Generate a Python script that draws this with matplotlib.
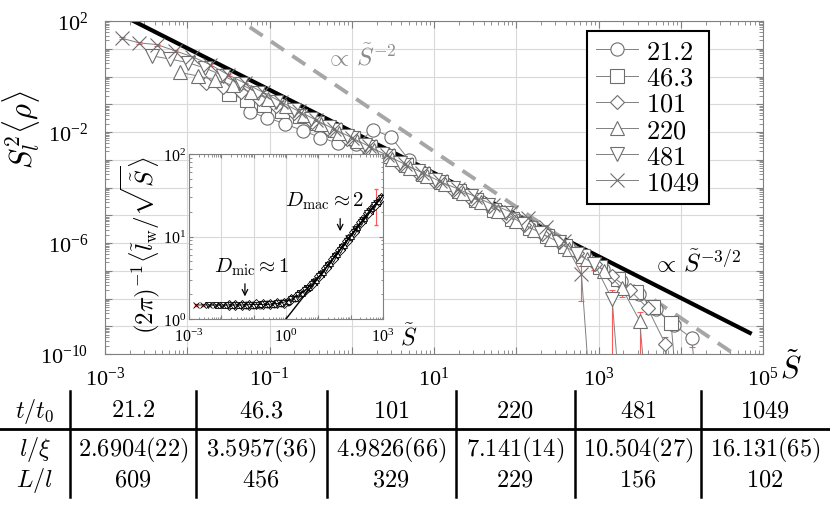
import numpy as np
import matplotlib
matplotlib.use('Agg')
import matplotlib.pyplot as plt
from matplotlib.lines import Line2D
from matplotlib.ticker import FixedLocator, FuncFormatter, LogLocator, NullFormatter

plt.rcParams['font.family'] = ['Liberation Serif', 'DejaVu Serif']
plt.rcParams['mathtext.fontset'] = 'cm'

W, H = 830, 506
def fx(px): return px / W
def fy(py): return 1 - py / H

#
# table / legend values
#
times = ['21.2', '46.3', '101', '220', '481', '1049']
l_xi = [2.6904, 3.5957, 4.9826, 7.141, 10.504, 16.131]
l_xi_txt = ['2.6904(22)', '3.5957(36)', '4.9826(66)', '7.141(14)', '10.504(27)', '16.131(65)']
L_l = ['609', '456', '329', '229', '156', '102']

# log10 of the raw size bins (same for every time, rescaled by (l/xi)^2)
log_s_bins = [-0.382, -0.167, 0.048, 0.263, 0.478, 0.693, 0.908, 1.123, 1.338, 1.553,
              1.768, 1.983, 2.198, 2.413, 2.628, 2.843, 3.058, 3.273, 3.488, 3.703,
              3.918, 4.133, 4.348, 4.563, 4.778, 4.993, 5.208, 5.423]

# log10 of S_l^2 <rho>, last entry is the empty bin that falls off the axis
rho_212 = [-1.28, -1.48, -1.71, -1.95, -2.20, -2.40, -2.45, -1.92, -2.18, -3.00, -3.50, -3.85,
           -4.18, -4.50, -4.85, -5.18, -5.50, -5.82, -6.14, -6.55, -6.95, -7.38, -7.85, -8.38,
           -8.95, -9.43, -16]
rho_463 = [-0.63, -0.84, -1.04, -1.24, -1.44, -1.67, -1.94, -2.23, -2.55, -2.87, -3.19, -3.50,
           -3.81, -4.12, -4.45, -4.80, -5.12, -5.45, -5.76, -6.10, -6.48, -6.88, -7.30, -7.78,
           -8.32, -8.88, -16]
rho_101 = [-0.23, -0.38, -0.57, -0.80, -1.05, -1.33, -1.63, -1.93, -2.24, -2.55, -2.87, -3.18,
           -3.48, -3.80, -4.09, -4.40, -4.68, -5.02, -5.35, -5.66, -5.98, -6.36, -6.74, -7.20,
           -7.70, -8.35, -9.64, -16]
rho_220 = [0.15, 0.02, -0.12, -0.32, -0.56, -0.80, -1.08, -1.38, -1.70, -2.02, -2.33, -2.65,
           -2.96, -3.28, -3.58, -3.88, -4.19, -4.52, -4.86, -5.20, -5.52, -5.84, -6.20, -6.58,
           -7.00, -7.63, -8.80, -16]
rho_481 = [0.74, 0.63, 0.50, 0.30, 0.03, -0.28, -0.60, -0.92, -1.22, -1.52, -1.83, -2.15,
           -2.46, -2.78, -3.10, -3.40, -3.72, -4.02, -4.32, -4.62, -4.93, -5.33, -5.65, -5.98,
           -6.38, -6.76, -8.02, -16]
rho_1049 = [1.38, 1.21, 1.15, 0.93, 0.71, 0.43, 0.07, -0.25, -0.57, -0.91, -1.25, -1.57,
            -1.89, -2.20, -2.52, -2.84, -3.16, -3.47, -3.78, -4.05, -4.33, -4.62, -4.88, -5.10,
            -5.42, -5.92, -7.12, -16]

# relative errors of the last three filled bins
err_212 = [0.25, 0.35, 0.53]
err_463 = [0.2, 0.3, 0.45]
err_101 = [0.3, 0.4, 0.86]
err_220 = [0.3, 0.5, 1.1]
err_481 = [0.2, 0.4, 1.2]
err_1049 = [0.2, 0.3, 0.89]

# inset: log10 of (2pi)^-1 <l_w / sqrt(S)>
wall_212 = [0.17, 0.172, 0.175, 0.178, 0.18, 0.19, 0.21, 0.26, 0.32, 0.38, 0.46, 0.56, 0.67,
            0.78, 0.89, 1.00, 1.11, 1.22, 1.33, 1.42]
wall_463 = [0.17, 0.172, 0.174, 0.176, 0.178, 0.18, 0.19, 0.21, 0.25, 0.31, 0.37, 0.45, 0.55,
            0.65, 0.76, 0.87, 0.98, 1.09, 1.20, 1.31, 1.41]
wall_101 = [0.17, 0.17, 0.172, 0.174, 0.176, 0.178, 0.18, 0.19, 0.20, 0.24, 0.29, 0.35, 0.43,
            0.52, 0.62, 0.73, 0.84, 0.95, 1.06, 1.17, 1.28, 1.38, 1.47]
wall_220 = [0.17, 0.17, 0.17, 0.17, 0.172, 0.175, 0.177, 0.18, 0.185, 0.195, 0.22, 0.26, 0.32,
            0.39, 0.47, 0.57, 0.68, 0.79, 0.90, 1.01, 1.12, 1.23, 1.34, 1.43]
wall_481 = [0.17, 0.17, 0.17, 0.17, 0.17, 0.17, 0.175, 0.175, 0.178, 0.18, 0.19, 0.20, 0.24,
            0.29, 0.35, 0.43, 0.52, 0.62, 0.73, 0.84, 0.95, 1.06, 1.17, 1.28, 1.38, 1.47]
wall_1049 = [0.17, 0.17, 0.17, 0.17, 0.17, 0.17, 0.17, 0.17, 0.175, 0.175, 0.178, 0.18, 0.19,
             0.21, 0.25, 0.30, 0.37, 0.45, 0.54, 0.65, 0.76, 0.87, 0.98, 1.09, 1.20, 1.31, 1.41]

rho_all = [rho_212, rho_463, rho_101, rho_220, rho_481, rho_1049]
err_all = [err_212, err_463, err_101, err_220, err_481, err_1049]
wall_all = [wall_212, wall_463, wall_101, wall_220, wall_481, wall_1049]

markers = ['o', 's', 'D', '^', 'v', 'x']
msizes = [9.5, 9.5, 7.5, 9.5, 9.5, 10.5]

fig = plt.figure(figsize=(8.3, 5.06), dpi=100)
ax = fig.add_axes([fx(105), fy(355), (763 - 105) / W, (355 - 22) / H])
ax.set_xscale('log')
ax.set_yscale('log')
ax.set_xlim(1e-3, 1e5)
ax.set_ylim(1e-10, 1e2)

# guide lines (drawn under the markers)
gx = np.array([10**-2.68, 10**4.84])
ax.plot(gx, 10**-1.98 * gx**-1.5, color='k', lw=3, zorder=2.5)
gx2 = np.array([10**-1.24, 10**5])
ax.plot(gx2, 10**-0.70 * gx2**-2.0, color='#a6a6a6', lw=2.8, dashes=(4, 2.6), zorder=2.5)

for i, t in enumerate(times):
    s = 10**np.array(log_s_bins[:len(rho_all[i])]) / l_xi[i]**2
    y = 10**np.array(rho_all[i])
    err = 0.08 * y
    err[-4:-1] = np.array(err_all[i]) * y[-4:-1]
    ax.errorbar(s[:-1], y[:-1], yerr=err[:-1], fmt='none', ecolor='#ff5a5a',
                elinewidth=0.8, capsize=2.5, capthick=0.8, zorder=2)
    ax.plot(s, y, color='#808080', lw=0.7, marker=markers[i], ms=msizes[i],
            mfc='white', mec='#6e6e6e', mew=0.8, zorder=3, label=f'${t}$')

def make_fmt(show):
    def f(v, pos):
        k = int(round(np.log10(v)))
        return r'$\mathdefault{10^{%d}}$' % k if k in show else ''
    return FuncFormatter(f)

ax.xaxis.set_major_locator(FixedLocator([10.0**k for k in range(-3, 6)]))
ax.xaxis.set_major_formatter(make_fmt([-3, -1, 1, 3, 5]))
ax.yaxis.set_major_locator(FixedLocator([10.0**k for k in range(-10, 3)]))
ax.yaxis.set_major_formatter(make_fmt([2, -2, -6, -10]))
for a in (ax.xaxis, ax.yaxis):
    a.set_minor_locator(LogLocator(base=10, subs=np.arange(2, 10), numticks=100))
    a.set_minor_formatter(NullFormatter())
ax.tick_params(which='both', direction='in', top=True, right=True, color='#808080', labelsize=16)
ax.tick_params(which='major', length=5)
ax.tick_params(which='minor', length=3)
ax.tick_params(axis='y', pad=12)
ax.tick_params(axis='x', pad=9)
ax.grid(True, which='major', color='#d9d9d9', lw=0.8)
for sp in ax.spines.values():
    sp.set_color('#808080')

leg = ax.legend(loc='upper left', bbox_to_anchor=((587 - 105) / 658, (355 - 32) / 333),
                borderaxespad=0, fontsize=19, frameon=True, fancybox=False, framealpha=1,
                edgecolor='k', labelspacing=0.1, handlelength=1.6, handletextpad=0.3,
                borderpad=0.35)
leg.get_frame().set_linewidth(1.5)
leg.set_zorder(10)

fig.text(fx(361), fy(57), r'$\propto\,\tilde{S}^{-2}$', fontsize=18, color='#8c8c8c',
         ha='center', va='center')
fig.text(fx(697), fy(263), r'$\propto\,\tilde{S}^{-3/2}$', fontsize=18, color='k',
         ha='center', va='center')
fig.text(fx(21), fy(130), r'$S_l^2\langle\rho\rangle$', fontsize=22, rotation=90,
         ha='center', va='center')
fig.text(fx(791), fy(369), r'$\tilde{S}$', fontsize=22, ha='center', va='center')

# inset
axi = fig.add_axes([fx(189), fy(320), (383 - 189) / W, (320 - 155) / H])
axi.set_xscale('log')
axi.set_yscale('log')
axi.set_xlim(1e-3, 1e3)
axi.set_ylim(1, 1e2)
for i, t in enumerate(times):
    w = wall_all[i]
    s = 10**np.array(log_s_bins[:len(w)]) / l_xi[i]**2
    y = 10**np.array(w)
    if t == '1049':
        e = 0.03 * y
        e[-1] = 12
        axi.errorbar(s, y, yerr=e, fmt='none', ecolor='#ff5a5a', elinewidth=0.8,
                     capsize=1.5, zorder=2)
    axi.plot(s, y, color='k', lw=0.6, marker=markers[i], ms=5, mfc='white',
             mec='k', mew=0.6, zorder=3)
gi = np.array([1.0, 1e3])
axi.plot(gi, gi**0.5, color='k', lw=1.0, zorder=4)
axi.xaxis.set_major_locator(FixedLocator([10.0**k for k in range(-3, 4)]))
axi.xaxis.set_major_formatter(make_fmt([-3, 0, 3]))
axi.yaxis.set_major_locator(FixedLocator([1, 10, 100]))
axi.yaxis.set_major_formatter(make_fmt([0, 1, 2]))
for a in (axi.xaxis, axi.yaxis):
    a.set_minor_locator(LogLocator(base=10, subs=np.arange(2, 10), numticks=100))
    a.set_minor_formatter(NullFormatter())
axi.tick_params(which='both', direction='in', top=True, right=True, color='#808080', labelsize=11.5)
axi.tick_params(which='major', length=3)
axi.tick_params(which='minor', length=1.8)
axi.tick_params(axis='y', pad=2)
axi.tick_params(axis='x', pad=6)
axi.grid(True, which='major', color='#d9d9d9', lw=0.8)
for sp in axi.spines.values():
    sp.set_color('#808080')

axi.annotate('', xy=(10**-1.27, 10**0.24), xytext=(10**-1.27, 10**0.46),
             arrowprops=dict(arrowstyle='->', lw=0.9, color='k'))
axi.text(10**-1.05, 10**0.64, r'$D_{\rm mic}\approx 1$', fontsize=15, ha='center', va='center')
axi.annotate('', xy=(10**1.675, 10**1.03), xytext=(10**1.675, 10**1.25),
             arrowprops=dict(arrowstyle='->', lw=0.9, color='k'))
axi.text(10**1.21, 10**1.44, r'$D_{\rm mac}\approx 2$', fontsize=15, ha='center', va='center')
fig.text(fx(140), fy(245), r'$(2\pi)^{-1}\langle\tilde{l}_{\rm w}/\sqrt{\tilde{S}}\rangle$',
         fontsize=18, rotation=90, ha='center', va='center')
fig.text(fx(409), fy(337), r'$\tilde{S}$', fontsize=17, ha='center', va='center')

# table below the plot
col_lines = [70, 196, 327, 456, 575, 701]
col_mid = [133, 261, 391, 515, 638, 765]
row_y = [412, 450, 481]
fig.add_artist(Line2D([0, 1], [fy(430), fy(430)], color='k', lw=2))
for xl in col_lines:
    fig.add_artist(Line2D([fx(xl), fx(xl)], [fy(392), fy(498)], color='k', lw=1.8))
fig.text(fx(35), fy(row_y[0]), r'$t/t_0$', fontsize=17.5, ha='center', va='center')
fig.text(fx(35), fy(row_y[1]), r'$l/\xi$', fontsize=17.5, ha='center', va='center')
fig.text(fx(35), fy(row_y[2]), r'$L/l$', fontsize=17.5, ha='center', va='center')
for j in range(6):
    fig.text(fx(col_mid[j]), fy(row_y[0]), f'${times[j]}$', fontsize=17.5, ha='center', va='center')
    fig.text(fx(col_mid[j]), fy(row_y[1]), f'${l_xi_txt[j]}$', fontsize=17.5, ha='center', va='center')
    fig.text(fx(col_mid[j]), fy(row_y[2]), f'${L_l[j]}$', fontsize=17.5, ha='center', va='center')

fig.savefig('out.png', dpi=100)
